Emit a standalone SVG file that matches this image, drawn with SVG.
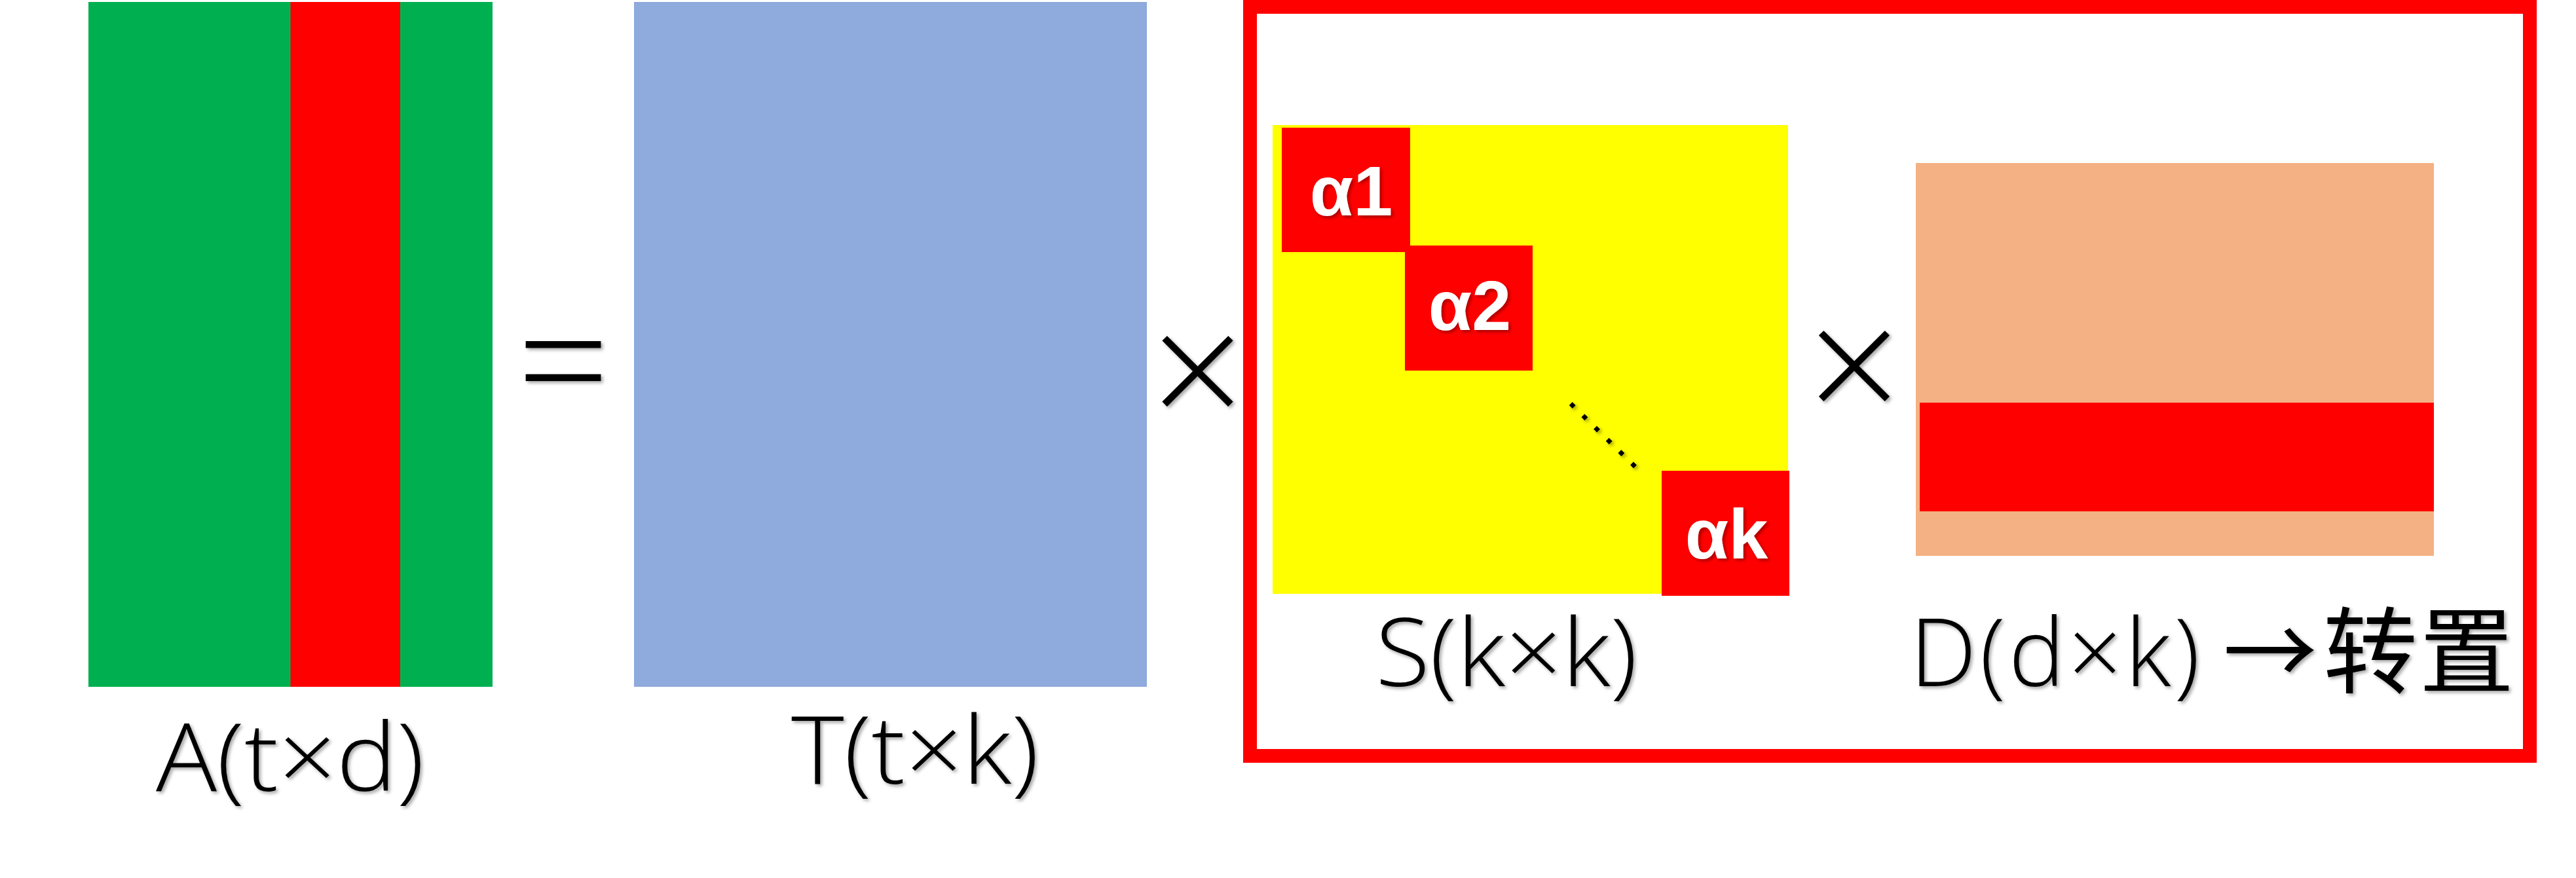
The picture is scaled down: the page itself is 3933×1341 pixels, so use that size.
<svg xmlns="http://www.w3.org/2000/svg" width="3933" height="1341" viewBox="0 0 3933 1341">
<defs>
<filter id="sh" x="-20%" y="-20%" width="140%" height="140%">
<feDropShadow dx="3" dy="3" stdDeviation="2.5" flood-color="#000" flood-opacity="0.35"/>
</filter>
<style>
.lbl{font-family:"Open Sans","Liberation Sans",sans-serif;font-weight:300;font-size:144px;fill:#000;filter:url(#sh);}
.op{font-family:"Open Sans","Liberation Sans",sans-serif;font-weight:300;font-size:250px;fill:#000;filter:url(#sh);text-anchor:middle;}
.cjk{font-family:"Noto Sans CJK SC",sans-serif;font-weight:400;letter-spacing:0;}
.al{font-family:"Liberation Sans",Arial,sans-serif;font-weight:bold;font-size:108px;fill:#fff;text-anchor:middle;filter:url(#sh);}
.red{fill:#FF0000;}
</style>
</defs>
<rect width="3933" height="1341" fill="#fff"/>
<g id="matrix-A">
<rect x="135" y="3" width="617" height="1046" fill="#00B050"/>
<rect x="443.5" y="3" width="167.5" height="1046" class="red"/>
<text class="lbl" x="443" y="1208" text-anchor="middle" textLength="410" lengthAdjust="spacingAndGlyphs">A(t×d)</text>
</g>
<g id="equals">
<text class="op" x="860" y="640">=</text>
</g>
<g id="matrix-T">
<rect x="968" y="3" width="783" height="1046" fill="#8FAADC"/>
<text class="lbl" x="1397" y="1197" text-anchor="middle" textLength="378" lengthAdjust="spacingAndGlyphs">T(t×k)</text>
</g>
<g id="times-1">
<text class="op" x="1828.5" y="655">×</text>
</g>
<g id="frame">
<rect x="1908.5" y="10.5" width="1954" height="1144" fill="none" stroke="#FF0000" stroke-width="21"/>
</g>
<g id="matrix-S">
<rect x="1943" y="191" width="787" height="716" fill="#FFFF00"/>
<rect x="1957" y="195" width="196" height="190" class="red"/>
<rect x="2145" y="375" width="195" height="191" class="red"/>
<rect x="2537" y="719" width="195" height="191" class="red"/>
<text class="al" x="2063" y="329">α1</text>
<text class="al" x="2244" y="504">α2</text>
<text class="al" x="2636" y="853">αk</text>
<line x1="2398.2" y1="616.6" x2="2496.5" y2="712.7" stroke="#000" stroke-width="7" stroke-dasharray="7 19.1" filter="url(#sh)"/>
<text class="lbl" x="2300" y="1048" text-anchor="middle" textLength="400" lengthAdjust="spacingAndGlyphs">S(k×k)</text>
</g>
<g id="times-2">
<text class="op" x="2831" y="647">×</text>
</g>
<g id="matrix-D">
<rect x="2925" y="249" width="791" height="600" fill="#F4B183"/>
<rect x="2931" y="615" width="785" height="166" class="red"/>
<text class="lbl" x="2916" y="1048"><tspan letter-spacing="5">D(d×k)</tspan><tspan class="cjk" x="3394">→</tspan><tspan class="cjk" x="3547">转</tspan><tspan class="cjk" x="3694">置</tspan></text>
</g>
</svg>
